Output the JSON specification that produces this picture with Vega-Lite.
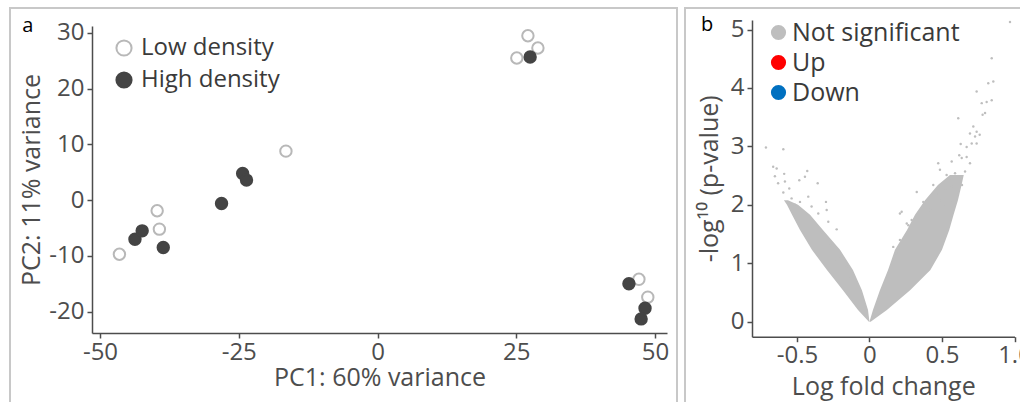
{
  "$schema": "https://vega.github.io/schema/vega-lite/v6.json",
  "padding": {"left": 9, "top": 7, "right": 0, "bottom": 0},
  "spacing": 6,
  "config": {
    "font": "Open Sans",
    "view": {"stroke": "#c8c8c8", "strokeWidth": 2},
    "axis": {
      "grid": false,
      "domainColor": "#4d4d4d",
      "domainWidth": 1.5,
      "tickColor": "#4d4d4d",
      "tickWidth": 1.5,
      "tickSize": 5,
      "labelFont": "Open Sans",
      "labelFontSize": 24,
      "labelColor": "#4d4d4d",
      "labelPadding": 2,
      "labelFlush": false,
      "labelOverlap": false,
      "titleFont": "Open Sans",
      "titleFontSize": 25,
      "titleFontWeight": "normal",
      "titleColor": "#4d4d4d"
    },
    "legend": {
      "labelFont": "Open Sans",
      "labelColor": "#3a3a3a",
      "labelLimit": 400,
      "padding": 0
    }
  },
  "hconcat": [
    {
      "width": 667,
      "height": 396,
      "layer": [
        {
          "data": {
            "values": [
              {"group": "Low density", "pc1": 27.1, "pc2": 29.5},
              {"group": "Low density", "pc1": 28.9, "pc2": 27.3},
              {"group": "Low density", "pc1": 25.1, "pc2": 25.5},
              {"group": "Low density", "pc1": -16.5, "pc2": 8.8},
              {"group": "Low density", "pc1": -39.7, "pc2": -1.9},
              {"group": "Low density", "pc1": -39.3, "pc2": -5.2},
              {"group": "Low density", "pc1": -46.5, "pc2": -9.7},
              {"group": "Low density", "pc1": 47.1, "pc2": -14.2},
              {"group": "Low density", "pc1": 48.7, "pc2": -17.4},
              {"group": "High density", "pc1": 27.5, "pc2": 25.7},
              {"group": "High density", "pc1": -24.3, "pc2": 4.8},
              {"group": "High density", "pc1": -23.6, "pc2": 3.6},
              {"group": "High density", "pc1": -28.1, "pc2": -0.6},
              {"group": "High density", "pc1": -43.7, "pc2": -7.0},
              {"group": "High density", "pc1": -42.4, "pc2": -5.5},
              {"group": "High density", "pc1": -38.6, "pc2": -8.5},
              {"group": "High density", "pc1": 45.3, "pc2": -15.0},
              {"group": "High density", "pc1": 48.2, "pc2": -19.4},
              {"group": "High density", "pc1": 47.5, "pc2": -21.3}
            ]
          },
          "mark": {"type": "point", "shape": "circle", "filled": true, "size": 130, "strokeWidth": 2, "opacity": 1},
          "encoding": {
            "x": {
              "field": "pc1", "type": "quantitative",
              "scale": {"domain": [-51.44, 52.16], "range": [82, 657], "nice": false, "zero": false},
              "axis": {"values": [-50, -25, 0, 25, 50], "offset": -71, "title": "PC1: 60% variance", "titlePadding": 1, "labelExpr": "replace(datum.label, '\u2212', '-')"}
            },
            "y": {
              "field": "pc2", "type": "quantitative",
              "scale": {"domain": [-23.83, 31.25], "range": [325, 18], "nice": false, "zero": false},
              "axis": {"values": [-20, -10, 0, 10, 20, 30], "offset": -82, "title": "PC2: 11% variance", "titlePadding": 4, "labelPadding": 3, "labelExpr": "replace(datum.label, '\u2212', '-')"}
            },
            "fill": {
              "field": "group", "type": "nominal",
              "scale": {"domain": ["Low density", "High density"], "range": ["transparent", "#444444"]},
              "legend": {"title": null, "orient": "none", "legendX": 102, "legendY": 28, "labelFontSize": 24, "symbolSize": 230, "symbolStrokeWidth": 2, "labelOffset": 5, "rowPadding": 8}
            },
            "stroke": {
              "field": "group", "type": "nominal",
              "scale": {"domain": ["Low density", "High density"], "range": ["#b8b8b8", "#444444"]},
              "legend": {"title": null, "orient": "none", "legendX": 102, "legendY": 28, "labelFontSize": 24, "symbolSize": 230, "symbolStrokeWidth": 2, "labelOffset": 5, "rowPadding": 8}
            }
          }
        },
        {
          "data": {"values": [{"label": "a"}]},
          "mark": {"type": "text", "fontSize": 20, "color": "#000000", "font": "Open Sans"},
          "encoding": {
            "x": {"datum": -63},
            "y": {"datum": 31.3},
            "text": {"field": "label", "type": "nominal"}
          }
        }
      ]
    },
    {
      "width": 345,
      "height": 396,
      "layer": [
        {
          "data": {
            "values": [
              {"arm": "L", "nlp": 0, "lfc": -0.004, "lfc2": 0.0},
              {"arm": "L", "nlp": 0.2, "lfc": -0.079, "lfc2": -0.01},
              {"arm": "L", "nlp": 0.54, "lfc": -0.183, "lfc2": -0.052},
              {"arm": "L", "nlp": 0.885, "lfc": -0.293, "lfc2": -0.114},
              {"arm": "L", "nlp": 1.23, "lfc": -0.397, "lfc2": -0.203},
              {"arm": "L", "nlp": 1.57, "lfc": -0.479, "lfc2": -0.321},
              {"arm": "L", "nlp": 1.83, "lfc": -0.534, "lfc2": -0.41},
              {"arm": "L", "nlp": 2.0, "lfc": -0.569, "lfc2": -0.493},
              {"arm": "L", "nlp": 2.08, "lfc": -0.59, "lfc2": -0.562},
              {"arm": "R", "nlp": 0, "lfc": 0.0, "lfc2": 0.008},
              {"arm": "R", "nlp": 0.2, "lfc": 0.024, "lfc2": 0.12},
              {"arm": "R", "nlp": 0.54, "lfc": 0.072, "lfc2": 0.28},
              {"arm": "R", "nlp": 0.885, "lfc": 0.128, "lfc2": 0.42},
              {"arm": "R", "nlp": 1.23, "lfc": 0.176, "lfc2": 0.5},
              {"arm": "R", "nlp": 1.57, "lfc": 0.259, "lfc2": 0.55},
              {"arm": "R", "nlp": 1.83, "lfc": 0.314, "lfc2": 0.58},
              {"arm": "R", "nlp": 2.08, "lfc": 0.383, "lfc2": 0.61},
              {"arm": "R", "nlp": 2.34, "lfc": 0.472, "lfc2": 0.635},
              {"arm": "R", "nlp": 2.51, "lfc": 0.555, "lfc2": 0.65}
            ]
          },
          "mark": {"type": "area", "orient": "horizontal", "color": "#bebebe", "opacity": 1},
          "encoding": {
            "y": {
              "field": "nlp", "type": "quantitative",
              "scale": {"domain": [-0.257, 5.163], "range": [328.7, 12], "nice": false, "zero": false},
              "axis": {"values": [0, 1, 2, 3, 4, 5], "format": "d", "offset": -67, "title": "-log\u00b9\u2070 (p-value)", "titlePadding": 8, "labelPadding": 3}
            },
            "x": {
              "field": "lfc", "type": "quantitative",
              "scale": {"domain": [-0.81, 1.0], "range": [67, 329.5], "nice": false, "zero": false},
              "axis": {"values": [-0.5, 0, 0.5, 1], "offset": -67.3, "title": "Log fold change", "titlePadding": 7, "labelExpr": "datum.value == 0 ? '0' : replace(format(datum.value, '.1f'), '\u2212', '-')"}
            },
            "x2": {"field": "lfc2"},
            "detail": {"field": "arm", "type": "nominal"}
          }
        },
        {
          "data": {
            "values": [
              {"lfc": 0.969, "nlp": 5.13, "sig": "Not significant"},
              {"lfc": 0.843, "nlp": 4.51, "sig": "Not significant"},
              {"lfc": 0.854, "nlp": 4.11, "sig": "Not significant"},
              {"lfc": 0.819, "nlp": 4.08, "sig": "Not significant"},
              {"lfc": 0.739, "nlp": 3.94, "sig": "Not significant"},
              {"lfc": 0.843, "nlp": 3.79, "sig": "Not significant"},
              {"lfc": 0.808, "nlp": 3.76, "sig": "Not significant"},
              {"lfc": 0.774, "nlp": 3.74, "sig": "Not significant"},
              {"lfc": 0.797, "nlp": 3.57, "sig": "Not significant"},
              {"lfc": 0.78, "nlp": 3.54, "sig": "Not significant"},
              {"lfc": 0.612, "nlp": 3.48, "sig": "Not significant"},
              {"lfc": 0.716, "nlp": 3.34, "sig": "Not significant"},
              {"lfc": 0.739, "nlp": 3.25, "sig": "Not significant"},
              {"lfc": 0.693, "nlp": 3.22, "sig": "Not significant"},
              {"lfc": 0.728, "nlp": 3.17, "sig": "Not significant"},
              {"lfc": 0.76, "nlp": 3.2, "sig": "Not significant"},
              {"lfc": 0.705, "nlp": 3.05, "sig": "Not significant"},
              {"lfc": 0.67, "nlp": 2.99, "sig": "Not significant"},
              {"lfc": 0.739, "nlp": 3.05, "sig": "Not significant"},
              {"lfc": 0.629, "nlp": 3.04, "sig": "Not significant"},
              {"lfc": 0.619, "nlp": 2.85, "sig": "Not significant"},
              {"lfc": 0.636, "nlp": 2.8, "sig": "Not significant"},
              {"lfc": 0.67, "nlp": 2.82, "sig": "Not significant"},
              {"lfc": 0.567, "nlp": 2.74, "sig": "Not significant"},
              {"lfc": 0.474, "nlp": 2.71, "sig": "Not significant"},
              {"lfc": 0.486, "nlp": 2.6, "sig": "Not significant"},
              {"lfc": 0.693, "nlp": 2.71, "sig": "Not significant"},
              {"lfc": 0.532, "nlp": 2.51, "sig": "Not significant"},
              {"lfc": 0.59, "nlp": 2.54, "sig": "Not significant"},
              {"lfc": 0.659, "nlp": 2.57, "sig": "Not significant"},
              {"lfc": 0.44, "nlp": 2.34, "sig": "Not significant"},
              {"lfc": 0.326, "nlp": 2.22, "sig": "Not significant"},
              {"lfc": 0.463, "nlp": 2.2, "sig": "Not significant"},
              {"lfc": 0.521, "nlp": 2.25, "sig": "Not significant"},
              {"lfc": 0.567, "nlp": 2.31, "sig": "Not significant"},
              {"lfc": 0.371, "nlp": 2.05, "sig": "Not significant"},
              {"lfc": 0.222, "nlp": 1.88, "sig": "Not significant"},
              {"lfc": 0.291, "nlp": 1.74, "sig": "Not significant"},
              {"lfc": 0.268, "nlp": 1.65, "sig": "Not significant"},
              {"lfc": 0.164, "nlp": 1.28, "sig": "Not significant"},
              {"lfc": 0.188, "nlp": 1.17, "sig": "Not significant"},
              {"lfc": 0.21, "nlp": 1.4, "sig": "Not significant"},
              {"lfc": 0.21, "nlp": 1.85, "sig": "Not significant"},
              {"lfc": 0.257, "nlp": 1.68, "sig": "Not significant"},
              {"lfc": 0.555, "nlp": 2.42, "sig": "Not significant"},
              {"lfc": 0.61, "nlp": 2.17, "sig": "Not significant"},
              {"lfc": 0.521, "nlp": 2.0, "sig": "Not significant"},
              {"lfc": 0.638, "nlp": 2.34, "sig": "Not significant"},
              {"lfc": 0.486, "nlp": 2.08, "sig": "Not significant"},
              {"lfc": 0.569, "nlp": 2.08, "sig": "Not significant"},
              {"lfc": 0.417, "nlp": 1.91, "sig": "Not significant"},
              {"lfc": -0.714, "nlp": 2.98, "sig": "Not significant"},
              {"lfc": -0.594, "nlp": 2.95, "sig": "Not significant"},
              {"lfc": -0.664, "nlp": 2.65, "sig": "Not significant"},
              {"lfc": -0.64, "nlp": 2.62, "sig": "Not significant"},
              {"lfc": -0.652, "nlp": 2.49, "sig": "Not significant"},
              {"lfc": -0.588, "nlp": 2.53, "sig": "Not significant"},
              {"lfc": -0.63, "nlp": 2.37, "sig": "Not significant"},
              {"lfc": -0.583, "nlp": 2.4, "sig": "Not significant"},
              {"lfc": -0.429, "nlp": 2.58, "sig": "Not significant"},
              {"lfc": -0.484, "nlp": 2.42, "sig": "Not significant"},
              {"lfc": -0.445, "nlp": 2.48, "sig": "Not significant"},
              {"lfc": -0.357, "nlp": 2.37, "sig": "Not significant"},
              {"lfc": -0.553, "nlp": 2.28, "sig": "Not significant"},
              {"lfc": -0.594, "nlp": 2.21, "sig": "Not significant"},
              {"lfc": -0.422, "nlp": 2.14, "sig": "Not significant"},
              {"lfc": -0.3, "nlp": 2.05, "sig": "Not significant"},
              {"lfc": -0.295, "nlp": 1.91, "sig": "Not significant"},
              {"lfc": -0.226, "nlp": 1.58, "sig": "Not significant"},
              {"lfc": -0.284, "nlp": 1.71, "sig": "Not significant"},
              {"lfc": -0.157, "nlp": 0.94, "sig": "Not significant"},
              {"lfc": -0.134, "nlp": 0.77, "sig": "Not significant"},
              {"lfc": -0.203, "nlp": 1.11, "sig": "Not significant"},
              {"lfc": -0.399, "nlp": 1.97, "sig": "Not significant"},
              {"lfc": -0.353, "nlp": 1.85, "sig": "Not significant"},
              {"lfc": -0.479, "nlp": 2.05, "sig": "Not significant"},
              {"lfc": -0.537, "nlp": 2.11, "sig": "Not significant"},
              {"lfc": -0.514, "nlp": 2.0, "sig": "Not significant"},
              {"lfc": -0.397, "nlp": 1.74, "sig": "Not significant"},
              {"lfc": -0.328, "nlp": 1.53, "sig": "Not significant"},
              {"lfc": -0.272, "nlp": 1.31, "sig": "Not significant"},
              {"lfc": -0.238, "nlp": 1.06, "sig": "Not significant"}
            ]
          },
          "mark": {"type": "circle", "size": 6, "opacity": 1},
          "encoding": {
            "x": {"field": "lfc", "type": "quantitative"},
            "y": {"field": "nlp", "type": "quantitative"},
            "color": {
              "field": "sig", "type": "nominal",
              "scale": {"domain": ["Not significant", "Up", "Down"], "range": ["#bebebe", "#ff0000", "#0070c0"]},
              "legend": {"title": null, "orient": "none", "legendX": 756, "legendY": 12, "labelFontSize": 25, "labelLimit": 400, "symbolSize": 230, "symbolType": "circle", "labelOffset": 1, "rowPadding": 4}
            }
          }
        },
        {
          "data": {"values": [{"label": "b"}]},
          "mark": {"type": "text", "fontSize": 20, "color": "#000000", "font": "Open Sans"},
          "encoding": {
            "x": {"datum": -1.12},
            "y": {"datum": 5.08},
            "text": {"field": "label", "type": "nominal"}
          }
        }
      ]
    }
  ]
}
